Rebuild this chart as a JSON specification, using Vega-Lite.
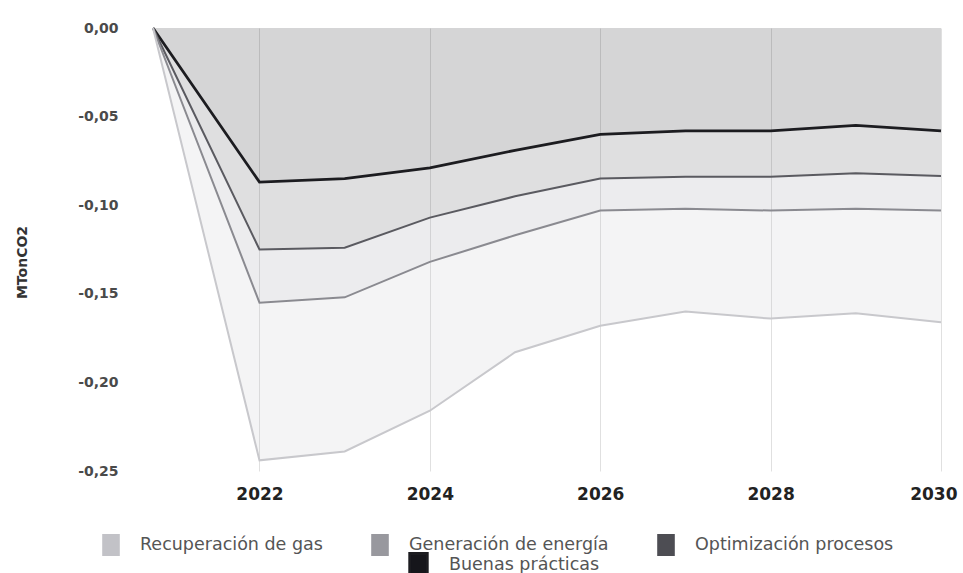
{
  "$schema": "https://vega.github.io/schema/vega-lite/v6.json",
  "width": 788,
  "height": 443,
  "autosize": {"type": "none"},
  "padding": {"left": 153, "top": 28, "right": 22, "bottom": 102},
  "background": "white",
  "config": {"view": {"stroke": null}, "font": "DejaVu Sans"},
  "data": {
    "values": [
      {"anio": 2020.75, "serie": "Buenas prácticas", "orden": 1, "valor": 0},
      {"anio": 2022, "serie": "Buenas prácticas", "orden": 1, "valor": -0.087},
      {"anio": 2023, "serie": "Buenas prácticas", "orden": 1, "valor": -0.085},
      {"anio": 2024, "serie": "Buenas prácticas", "orden": 1, "valor": -0.079},
      {"anio": 2025, "serie": "Buenas prácticas", "orden": 1, "valor": -0.069},
      {"anio": 2026, "serie": "Buenas prácticas", "orden": 1, "valor": -0.060},
      {"anio": 2027, "serie": "Buenas prácticas", "orden": 1, "valor": -0.058},
      {"anio": 2028, "serie": "Buenas prácticas", "orden": 1, "valor": -0.058},
      {"anio": 2029, "serie": "Buenas prácticas", "orden": 1, "valor": -0.055},
      {"anio": 2030, "serie": "Buenas prácticas", "orden": 1, "valor": -0.058},
      {"anio": 2020.75, "serie": "Optimización procesos", "orden": 2, "valor": 0},
      {"anio": 2022, "serie": "Optimización procesos", "orden": 2, "valor": -0.038},
      {"anio": 2023, "serie": "Optimización procesos", "orden": 2, "valor": -0.039},
      {"anio": 2024, "serie": "Optimización procesos", "orden": 2, "valor": -0.028},
      {"anio": 2025, "serie": "Optimización procesos", "orden": 2, "valor": -0.026},
      {"anio": 2026, "serie": "Optimización procesos", "orden": 2, "valor": -0.025},
      {"anio": 2027, "serie": "Optimización procesos", "orden": 2, "valor": -0.026},
      {"anio": 2028, "serie": "Optimización procesos", "orden": 2, "valor": -0.026},
      {"anio": 2029, "serie": "Optimización procesos", "orden": 2, "valor": -0.027},
      {"anio": 2030, "serie": "Optimización procesos", "orden": 2, "valor": -0.0255},
      {"anio": 2020.75, "serie": "Generación de energía", "orden": 3, "valor": 0},
      {"anio": 2022, "serie": "Generación de energía", "orden": 3, "valor": -0.030},
      {"anio": 2023, "serie": "Generación de energía", "orden": 3, "valor": -0.028},
      {"anio": 2024, "serie": "Generación de energía", "orden": 3, "valor": -0.025},
      {"anio": 2025, "serie": "Generación de energía", "orden": 3, "valor": -0.022},
      {"anio": 2026, "serie": "Generación de energía", "orden": 3, "valor": -0.018},
      {"anio": 2027, "serie": "Generación de energía", "orden": 3, "valor": -0.018},
      {"anio": 2028, "serie": "Generación de energía", "orden": 3, "valor": -0.019},
      {"anio": 2029, "serie": "Generación de energía", "orden": 3, "valor": -0.020},
      {"anio": 2030, "serie": "Generación de energía", "orden": 3, "valor": -0.0195},
      {"anio": 2020.75, "serie": "Recuperación de gas", "orden": 4, "valor": 0},
      {"anio": 2022, "serie": "Recuperación de gas", "orden": 4, "valor": -0.089},
      {"anio": 2023, "serie": "Recuperación de gas", "orden": 4, "valor": -0.087},
      {"anio": 2024, "serie": "Recuperación de gas", "orden": 4, "valor": -0.084},
      {"anio": 2025, "serie": "Recuperación de gas", "orden": 4, "valor": -0.066},
      {"anio": 2026, "serie": "Recuperación de gas", "orden": 4, "valor": -0.065},
      {"anio": 2027, "serie": "Recuperación de gas", "orden": 4, "valor": -0.058},
      {"anio": 2028, "serie": "Recuperación de gas", "orden": 4, "valor": -0.061},
      {"anio": 2029, "serie": "Recuperación de gas", "orden": 4, "valor": -0.059},
      {"anio": 2030, "serie": "Recuperación de gas", "orden": 4, "valor": -0.063}
    ]
  },
  "encoding": {
    "x": {
      "field": "anio",
      "type": "quantitative",
      "scale": {"domain": [2020.75, 2030], "nice": false, "zero": false},
      "axis": {
        "values": [2022, 2024, 2026, 2028, 2030],
        "format": "d",
        "title": null,
        "domain": false,
        "ticks": false,
        "tickSize": 0,
        "labelPadding": 15,
        "labelFont": "DejaVu Sans",
        "labelFontWeight": "bold",
        "labelFontSize": 17,
        "labelColor": "#222222",
        "labelFlush": 1,
        "labelFlushOffset": 16,
        "grid": true,
        "gridColor": "#e0e0e0",
        "gridWidth": 1
      }
    },
    "y": {
      "field": "valor",
      "type": "quantitative",
      "stack": "zero",
      "scale": {"domain": [-0.25, 0], "nice": false},
      "axis": {
        "values": [0, -0.05, -0.1, -0.15, -0.2, -0.25],
        "labelExpr": "replace(replace(format(datum.value, '.2f'), '.', ','), '−', '-')",
        "title": "MTonCO2",
        "titleFont": "DejaVu Sans",
        "titleFontWeight": "bold",
        "titleFontSize": 14,
        "titleColor": "#333333",
        "titleX": -131,
        "titleY": 234,
        "titleAngle": 270,
        "titleAlign": "center",
        "titleBaseline": "middle",
        "domain": false,
        "ticks": false,
        "tickSize": 0,
        "labelPadding": 35,
        "labelFont": "DejaVu Sans",
        "labelFontWeight": "bold",
        "labelFontSize": 14,
        "labelColor": "#4a4a4a",
        "grid": false
      }
    },
    "order": {"field": "orden", "type": "quantitative"}
  },
  "layer": [
    {
      "mark": {"type": "area", "fillOpacity": 0.18, "interpolate": "linear"},
      "encoding": {
        "fill": {
          "field": "serie",
          "type": "nominal",
          "scale": {
            "domain": ["Recuperación de gas", "Generación de energía", "Optimización procesos", "Buenas prácticas"],
            "range": ["#c2c2c7", "#98989e", "#4d4d53", "#16161b"]
          },
          "legend": {
            "title": null,
            "orient": "none",
            "legendX": -53,
            "legendY": 506,
            "direction": "horizontal",
            "columns": 3,
            "values": ["Recuperación de gas", "Generación de energía", "Optimización procesos"],
            "symbolType": "M-0.8,-1H0.8V1H-0.8Z",
            "symbolSize": 484,
            "symbolStrokeWidth": 0,
            "symbolOpacity": 1,
            "labelFont": "DejaVu Sans",
            "labelFontSize": 17.5,
            "labelColor": "#555555",
            "labelOffset": 18,
            "labelLimit": 400,
            "columnPadding": 46,
            "padding": 0,
            "encode": {"symbols": {"update": {"fillOpacity": {"value": 1}, "opacity": {"value": 1}}}}
          }
        }
      }
    },
    {
      "mark": {"type": "line", "interpolate": "linear"},
      "encoding": {
        "stroke": {
          "field": "serie",
          "type": "nominal",
          "scale": {
            "domain": ["Buenas prácticas", "Optimización procesos", "Generación de energía", "Recuperación de gas"],
            "range": ["#1c1c20", "#5a5a60", "#8a8a90", "#c8c8cc"]
          },
          "legend": {
            "title": null,
            "orient": "none",
            "legendX": 253,
            "legendY": 524,
            "values": ["Buenas prácticas"],
            "symbolType": "M-0.8,-1H0.8V1H-0.8Z",
            "symbolSize": 484,
            "symbolFillColor": "#16161b",
            "symbolStrokeWidth": 0,
            "labelFont": "DejaVu Sans",
            "labelFontSize": 17.5,
            "labelColor": "#555555",
            "labelOffset": 18,
            "labelLimit": 400,
            "padding": 0,
            "encode": {"symbols": {"update": {"fill": {"value": "#16161b"}, "strokeWidth": {"value": 0}, "opacity": {"value": 1}}}}
          }
        },
        "strokeWidth": {
          "field": "serie",
          "type": "nominal",
          "scale": {
            "type": "ordinal",
            "domain": ["Buenas prácticas", "Optimización procesos", "Generación de energía", "Recuperación de gas"],
            "range": [2.8, 2, 2, 2]
          },
          "legend": null
        }
      }
    }
  ]
}
